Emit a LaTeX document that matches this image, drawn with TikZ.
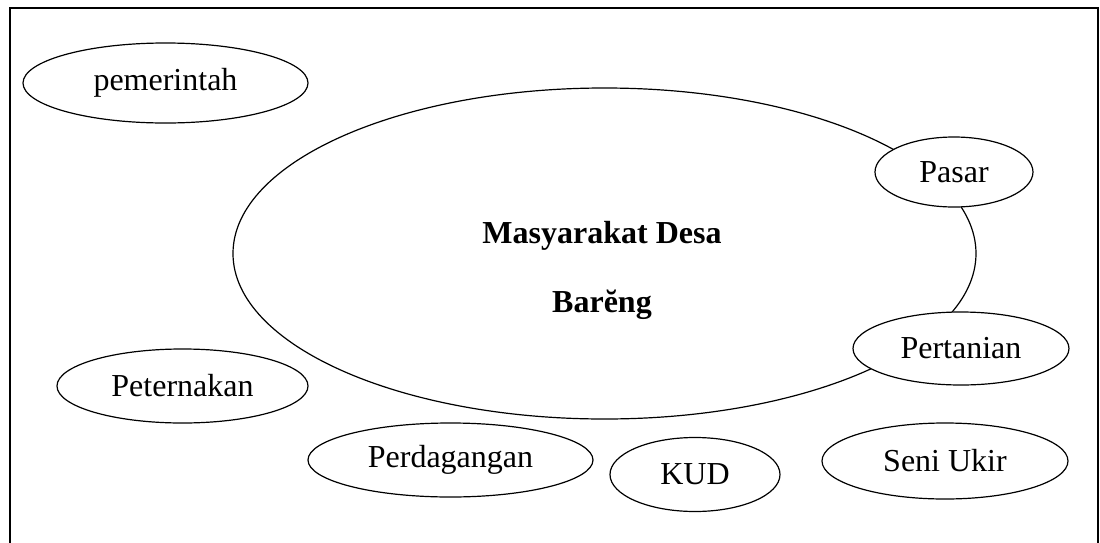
\documentclass[tikz,border=0pt]{standalone}
\usepackage{fontspec}
\setmainfont{Liberation Serif}
\usetikzlibrary{shapes}
\begin{document}
\begin{tikzpicture}[x=0.5pt,y=-0.5pt,line width=0.6pt]
		\tikzstyle{bubble}=[draw,ellipse,fill=white,inner sep=0pt,text centered,font=\fontsize{16}{19}\selectfont]
		\useasboundingbox (0,0) rectangle (1100,542);
		
		\coordinate (frameBL) at (10,560);
		\coordinate (frameTL) at (10,8);
		\coordinate (frameBR) at (1098,560);
		\draw (frameBL) -- (frameTL) -| (frameBR);
		
		\node[draw,ellipse,inner sep=0pt,minimum width=371.5pt,minimum height=165.5pt] (desa) at (604.5,253.5) {};
		\node[font=\fontsize{16}{34.5}\selectfont\bfseries,align=center] (desatext) at (602,270) {Masyarakat Desa\\Barĕng};
		
		\node[bubble,minimum width=142.5pt,minimum height=40pt] (pemerintah) at (165.5,83) {pemerintah};
		\node[bubble,minimum width=79pt,minimum height=35pt] (pasar) at (954,172) {Pasar};
		\node[bubble,minimum width=108pt,minimum height=36.5pt] (pertanian) at (961,348.5) {Pertanian};
		\node[bubble,minimum width=125.5pt,minimum height=37pt] (peternakan) at (182.5,386) {Peternakan};
		\node[bubble,minimum width=142.5pt,minimum height=37pt] (perdagangan) at (450.5,460) {Perdagangan};
		\node[bubble,minimum width=85pt,minimum height=37pt] (kud) at (695,474.5) {KUD};
		\node[bubble,minimum width=123pt,minimum height=38pt] (seniukir) at (945,461) {Seni Ukir};
		
		\end{tikzpicture}
\end{document}
